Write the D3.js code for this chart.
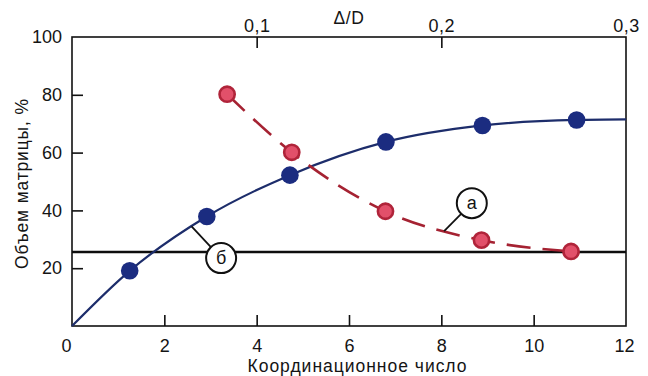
<!DOCTYPE html>
<html>
<head>
<meta charset="utf-8">
<script src="https://cdn.jsdelivr.net/npm/d3@7"></script>
<style>
  html, body { margin: 0; padding: 0; background: #fff; }
  svg { display: block; font-family: "Liberation Sans", Arial, Helvetica, sans-serif; }
</style>
</head>
<body>
<svg id="chart" width="648" height="376"></svg>
<script>
// Матричный объём (сплошная линия) в зависимости от координационного числа
const bluePointsX = [1.25, 2.92, 4.72, 6.80, 8.89, 10.93];
const bluePointsY = [19.1, 37.9, 52.2, 63.7, 69.4, 71.3];
// Аппроксимирующая кривая
const blueCurveX = [0, 1.25, 2.92, 4.72, 6.80, 8.89, 10.93, 12];
const blueCurveY = [0, 19.1, 37.9, 52.2, 63.7, 69.4, 71.3, 71.5];

// Зависимость от Δ/D (пунктирная линия)
const redPointsX = [3.36, 4.76, 6.79, 8.87, 10.81];
const redPointsY = [80.2, 60.1, 39.7, 29.7, 25.8];

// Горизонтальный уровень
const levelY = 25.6;

// Оси
const xTicks = [0, 2, 4, 6, 8, 10, 12];
const yTicks = [20, 40, 60, 80, 100];
const topTicks = [0.1, 0.2, 0.3];
const topTickLabels = ["0,1", "0,2", "0,3"];

// Выноски: положение кружка и точка на кривой (в единицах данных)
const calloutLabels = ["а", "б"];
const calloutCircleX = [8.66, 3.23];
const calloutCircleY = [42.5, 23.5];
const calloutTargetX = [8.06, 2.59];
const calloutTargetY = [32.8, 34.5];

const svg = d3.select("#chart");
const margin = { left: 72, right: 22, top: 37, bottom: 50 };
const W = 648, H = 376;

const x = d3.scaleLinear().domain([0, 12]).range([margin.left, W - margin.right]);
const xTop = d3.scaleLinear().domain([0, 0.3]).range([margin.left, W - margin.right]);
const y = d3.scaleLinear().domain([0, 100]).range([H - margin.bottom, margin.top]);

const textColor = "#141414";
const fontSize = 18;
const fontFamily = "Liberation Sans, Arial, sans-serif";

// Рамка
svg.append("rect")
  .attr("x", x(0)).attr("y", y(100))
  .attr("width", x(12) - x(0)).attr("height", y(0) - y(100))
  .attr("fill", "none").attr("stroke", "#111").attr("stroke-width", 1.6);

// Нижняя ось
const bottomAxis = d3.axisBottom(x).tickValues(xTicks).tickSizeInner(-11).tickSizeOuter(0).tickPadding(13);
const gB = svg.append("g").attr("transform", `translate(0,${y(0)})`).call(bottomAxis);
gB.select(".domain").remove();
gB.selectAll(".tick line").attr("stroke", "#111").attr("stroke-width", 1.6)
  .attr("display", d => (d === 0 || d === 12) ? "none" : null);
gB.selectAll(".tick text").attr("font-size", fontSize).attr("fill", textColor)
  .attr("font-family", fontFamily)
  .attr("dx", d => d === 0 ? -6 : (d === 12 ? -2 : 0));

// Левая ось
const leftAxis = d3.axisLeft(y).tickValues(yTicks).tickSizeInner(-11).tickSizeOuter(0).tickPadding(10);
const gL = svg.append("g").attr("transform", `translate(${x(0)},0)`).call(leftAxis);
gL.select(".domain").remove();
gL.selectAll(".tick line").attr("stroke", "#111").attr("stroke-width", 1.6)
  .attr("display", d => d === 100 ? "none" : null);
gL.selectAll(".tick text").attr("font-size", fontSize).attr("fill", textColor)
  .attr("font-family", fontFamily);

// Верхняя ось Δ/D
const topAxis = d3.axisTop(xTop).tickValues(topTicks)
  .tickFormat((d, i) => topTickLabels[i]).tickSizeInner(-11).tickSizeOuter(0).tickPadding(5);
const gT = svg.append("g").attr("transform", `translate(0,${y(100)})`).call(topAxis);
gT.select(".domain").remove();
gT.selectAll(".tick line").attr("stroke", "#111").attr("stroke-width", 1.6)
  .attr("display", d => d === 0.3 ? "none" : null);
gT.selectAll(".tick text").attr("font-size", fontSize).attr("fill", textColor)
  .attr("font-family", fontFamily)
  .attr("letter-spacing", 0.5);

svg.append("text").attr("x", 349).attr("y", 24).attr("text-anchor", "middle")
  .attr("font-size", 17.5).attr("fill", textColor).attr("letter-spacing", 0.6).text("Δ/D");

// Подписи осей
svg.append("text").attr("x", 357).attr("y", 372).attr("text-anchor", "middle")
  .attr("font-size", 17.5).attr("fill", textColor)
  .attr("textLength", 219).attr("lengthAdjust", "spacing")
  .text("Координационное число");
svg.append("text").attr("transform", "translate(28,184) rotate(-90)").attr("text-anchor", "middle")
  .attr("font-size", 17.5).attr("fill", textColor)
  .attr("textLength", 170).attr("lengthAdjust", "spacing")
  .text("Объем матрицы, %");

// Горизонтальная линия
svg.append("line")
  .attr("x1", x(0)).attr("x2", x(12)).attr("y1", y(levelY)).attr("y2", y(levelY))
  .attr("stroke", "#0d0d0d").attr("stroke-width", 2.6);

const line = d3.line().x(d => x(d[0])).y(d => y(d[1])).curve(d3.curveMonotoneX);

// Синяя кривая
svg.append("path")
  .datum(d3.zip(blueCurveX, blueCurveY))
  .attr("d", line)
  .attr("fill", "none").attr("stroke", "#1d2d6b").attr("stroke-width", 2.2);

// Красная пунктирная кривая через точки
svg.append("path")
  .datum(d3.zip(redPointsX, redPointsY))
  .attr("d", line)
  .attr("fill", "none").attr("stroke", "#a52232").attr("stroke-width", 2.6)
  .attr("stroke-dasharray", "24,12");

// Выноски
const callouts = calloutLabels.map((t, i) => ({
  t, cx: calloutCircleX[i], cy: calloutCircleY[i], tx: calloutTargetX[i], ty: calloutTargetY[i]
}));
const gC = svg.append("g");
gC.selectAll("line.lead").data(callouts).join("line")
  .attr("x1", d => x(d.cx)).attr("y1", d => y(d.cy))
  .attr("x2", d => x(d.tx)).attr("y2", d => y(d.ty))
  .attr("stroke", "#111").attr("stroke-width", 1.8);
gC.selectAll("circle").data(callouts).join("circle")
  .attr("cx", d => x(d.cx)).attr("cy", d => y(d.cy)).attr("r", 15)
  .attr("fill", "#fff").attr("stroke", "#111").attr("stroke-width", 2);
gC.selectAll("text").data(callouts).join("text")
  .attr("x", d => x(d.cx)).attr("y", d => y(d.cy)).attr("dy", "0.33em")
  .attr("text-anchor", "middle").attr("font-size", 18).attr("fill", textColor)
  .text(d => d.t);

// Маркеры
svg.append("g").selectAll("circle").data(d3.zip(bluePointsX, bluePointsY)).join("circle")
  .attr("cx", d => x(d[0])).attr("cy", d => y(d[1])).attr("r", 8.8)
  .attr("fill", "#1b2c80");

svg.append("g").selectAll("circle").data(d3.zip(redPointsX, redPointsY)).join("circle")
  .attr("cx", d => x(d[0])).attr("cy", d => y(d[1])).attr("r", 7.6)
  .attr("fill", "#e2506a").attr("stroke", "#b0243a").attr("stroke-width", 2.6);
</script>
</body>
</html>
